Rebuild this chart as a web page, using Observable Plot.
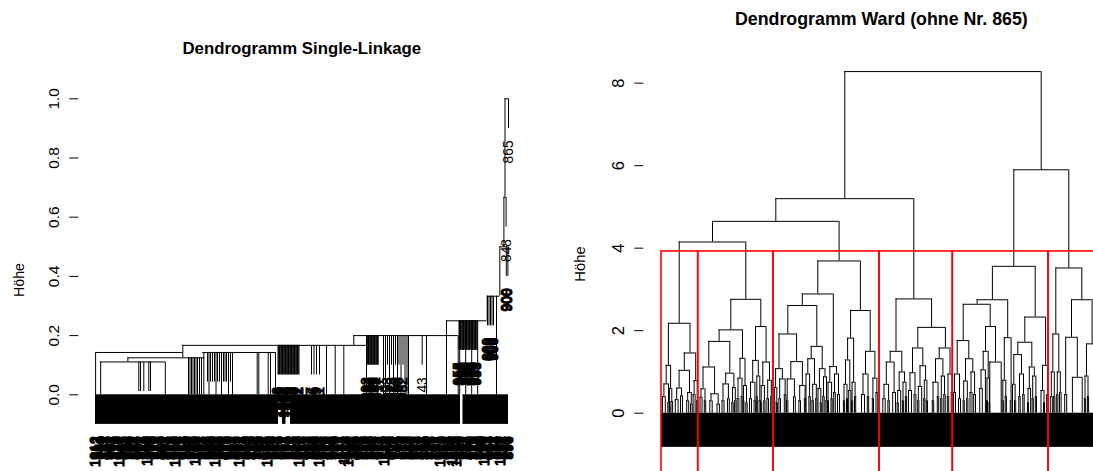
<!DOCTYPE html>
<html><head><meta charset="utf-8">
<script src="https://cdn.jsdelivr.net/npm/d3@7"></script>
<script src="https://cdn.jsdelivr.net/npm/@observablehq/plot@0.6"></script>
<style>
html,body{margin:0;padding:0;background:#fff;}
#wrap{position:relative;width:1093px;height:471px;overflow:hidden;background:#fff;font-family:"Liberation Sans",Arial,Helvetica,sans-serif;color:#000;}
.panel{position:absolute;top:0;}
.title{position:absolute;font-weight:bold;white-space:nowrap;transform:translateX(-50%);line-height:1;}
.ylab{position:absolute;white-space:nowrap;transform:translate(-50%,-50%) rotate(-90deg);line-height:1;}
</style></head><body><div id="wrap"></div>
<script>
// ---------- Single-Linkage dendrogram (leaf positions 0..413 in leaf order) ----------
const slTitle = "Dendrogramm Single-Linkage";
const slTicks = [0, 0.2, 0.4, 0.6, 0.8, 1.0];
// merge bars: [left child pos, right child pos, merge height]
const slMerges = [
  [0.1, 87.3, 0.143], [5.2, 69.8, 0.111], [32.4, 109.3, 0.125], [107.3, 180, 0.143],
  [87.3, 271, 0.167], [258.3, 362.7, 0.2], [351, 391.7, 0.25], [391.7, 404.3, 0.333],
  [404.3, 412.4, 0.5], [408.4, 410.6, 0.667], [409.5, 413, 1.0]
];
// cluster branches: [pos, from height, to height]
const slBranches = [
  [0.1, 0.143, 0], [87.3, 0.167, 0.125], [5.2, 0.111, 0], [69.8, 0.111, 0], [32.4, 0.125, 0.111],
  [108.3, 0.143, 0], [180, 0.143, 0], [161.7, 0.143, 0], [163.3, 0.143, 0], [172.7, 0.143, 0], [175, 0.143, 0],
  [93, 0.125, 0], [94.5, 0.125, 0], [96, 0.125, 0], [97.5, 0.125, 0], [99, 0.125, 0], [100.5, 0.125, 0],
  [102, 0.125, 0], [104, 0.125, 0], [106, 0.125, 0],
  [113.5, 0.143, 0], [120.5, 0.143, 0], [126, 0.143, 0], [133, 0.143, 0], [137, 0.143, 0],
  [258.3, 0.2, 0.167], [271, 0.2, 0], [231, 0.167, 0], [239.7, 0.167, 0], [248.3, 0.167, 0],
  [288, 0.2, 0], [290, 0.2, 0], [294, 0.2, 0], [298, 0.2, 0], [302, 0.2, 0], [305.5, 0.2, 0],
  [309.5, 0.2, 0], [311.5, 0.2, 0], [313, 0.2, 0], [331, 0.2, 0], [351, 0.25, 0], [362.7, 0.2, 0],
  [364.2, 0.25, 0], [370.2, 0.25, 0], [376.2, 0.25, 0], [382.2, 0.25, 0],
  [391.7, 0.333, 0.25], [401, 0.333, 0], [404.3, 0.5, 0.333], [408.4, 0.667, 0.5], [409.5, 1.0, 0.667]
];
// single observations joining above 0: height, positions, labels (null = label hidden in the leaf band)
const slLeafGroups = [
  {height: 0.111, x: [43.3, 45, 48.3, 53.3, 55], labels: null},
  {height: 0.143, x: [112, 115, 117, 119, 122, 124, 128, 129.5, 131, 135], labels: null},
  {height: 0.167, x: [182.5, 184, 185.5, 187, 188.5, 190, 191.5, 193, 194.5, 196, 197.5, 199, 200.5, 202, 203.5],
   labels: ["1053","870","1028","992","1064","874","989","1031","871","1059","993","1046","877","1002","1061"]},
  {height: 0.167, x: [183.2, 184.7, 186.2, 187.7, 189.2, 190.7, 192.2, 193.7, 195.2, 196.7, 198.2, 199.7, 201.2, 202.7], labels: null},
  {height: 0.167, x: [216, 218.5, 221, 224], labels: ["917","946","939","911"]},
  {height: 0.2, x: [271.5, 273, 274.5, 276, 277.5, 279, 280.5, 282], labels: ["1093","984","1057","903","961","1085","942","1017"]},
  {height: 0.2, x: [272.2, 273.7, 275.2, 276.7, 278.2, 279.7, 281.2, 282.7], labels: null},
  {height: 0.2, x: [292, 296, 300, 303.5, 307.5], labels: ["993","913","960","966","982"]},
  {height: 0.2, x: [326.7], labels: ["43"]},
  {height: 0.25, x: [363.5, 365, 366.5, 368, 369.5, 371, 372.5, 374, 375.5, 377, 378.5, 380, 381.5],
   labels: ["955","905","895","958","965","885","898","956","951","995","890","959","953"]},
  {height: 0.25, x: [364.2, 365.7, 367.2, 368.7, 370.2, 371.7, 373.2, 374.7, 376.2, 377.7, 379.2, 380.7], labels: null},
  {height: 0.333, x: [392, 393.5, 395, 396.5, 398], labels: ["909","600","908","990","906"]},
  {height: 0.5, x: [410.8, 412.4], labels: ["909","900"]},
  {height: 0.667, x: [410.6], labels: ["848"]},
  {height: 1.0, x: [413], labels: ["865"]}
];
// observations tied at height 0 (solid leaf band), leaf-position spans
const slZeroBand = [[0, 183], [187, 190.5], [195, 365], [367.5, 413]];
// leaf labels of the height-0 observations, in leaf order
const slBottomLabels = [
  "1012","713","884","290","231","458","547","831","602","176","318","624","1047","387","455","952","726","509","139","241",
  "683","676","902","813","274","365","1103","598","368","127","519","742","845","486","207","903","631","219","978","655",
  "1066","334","412","871","753","540","286","196","594","767","1120","403","337","928","861","281","149","615","705","752",
  "1009","143","563","589","428","476","916","842","252","327","687","699","1081","228","374","564","809","915","495","372",
  "166","805","738","451","621","686","1035","133","283","919","947","297","510","532","392","764","674","411","828","857",
  "215","188","1092","626","457","349","763","973","348","502","589","239","1058","781","936","416","271","659","645","895",
  "719","322","183","571","1114","138","1027","707","586","448","439","984","872","265","325","613","798","839","264","392",
  "617","522","953","176","1140","748","381","459","529","981","746","305","194","637","668","214","887","866","302","543",
  "574","377","421","702","835","160","657","823","249","491","781","931","1073","268","362","614","694","789","1156","345",
  "1018","556","533","902","817","233","406","679","926","428","258","815","609","150","1131","641","474","967","792","384",
  "357","518","1162","727","541","299","896"];

// ---------- Ward dendrogram (leaf positions from 0, plot cut at 433) ----------
const wardTitle = "Dendrogramm Ward (ohne Nr. 865)";
const wardTicks = [0, 2, 4, 6, 8];
// merge bars: [left child pos, right child pos, merge height]
const wardMerges = [
  [184.3, 380.7, 8.28], [115.3, 253.3, 5.20], [353.3, 408.3, 5.90], [52, 178.6, 4.65], [235.5, 271.1, 2.77],
  [331.9, 374.7, 3.56], [395.3, 421.3, 3.52], [18.7, 85.3, 4.15], [157.3, 199.9, 3.69], [7.9, 29.5, 2.18],
  [70.3, 100.3, 2.76], [141.8, 172.8, 2.89], [190.1, 209.7, 2.49], [229.7, 241.3, 1.50], [257.3, 284.9, 2.08],
  [316.6, 347.2, 2.75], [364.3, 385.1, 2.33], [392.3, 398.3, 1.92], [411, 431.6, 2.75],
  // cluster 1
  [5.7, 10.1, 1.16], [23.8, 35.2, 1.46], [3.4, 8.0, 0.71], [8.9, 11.3, 0.60], [18.6, 29, 1.04], [33.6, 36.8, 0.79],
  [2.0, 4.8, 0.40], [7.3, 8.7, 0.25], [10.5, 12.1, 0.28], [16.2, 21, 0.61], [27.2, 30.8, 0.50], [14.8, 17.6, 0.33],
  [20.0, 22.0, 0.42], [26.2, 28.2, 0.30], [30.0, 31.6, 0.22], [32.6, 34.6, 0.45], [36.2, 37.4, 0.30], [8.75, 9.5, 0.18],
  // cluster 2
  [58.6, 82, 2.02], [95, 105.6, 2.10], [48.3, 69.3, 1.74], [79.5, 84.5, 1.33], [42.5, 54.1, 1.12], [65.2, 73.4, 0.97],
  [77.5, 81.5, 0.85], [83, 86, 0.67], [92.2, 97.8, 1.28], [102.3, 109, 1.24], [40.5, 44.5, 0.59], [50.5, 57.7, 0.47],
  [62.5, 67.9, 0.71], [72, 74.8, 0.62], [76.6, 78.4, 0.35], [80.7, 82.3, 0.40], [90, 94.4, 0.75], [96.3, 99.3, 0.90],
  [100.7, 103.9, 0.67], [107.2, 110.8, 0.80], [39.5, 41.5, 0.39], [49.3, 51.7, 0.30], [56.5, 58.9, 0.22],
  [82.6, 83.4, 0.30], [85.3, 86.7, 0.25], [61.5, 63.5, 0.30], [67, 68.8, 0.35], [71.3, 72.7, 0.25], [74.1, 75.5, 0.30],
  [89, 91, 0.35], [93.6, 95.2, 0.30], [95.8, 96.8, 0.40], [98.6, 100, 0.30], [100.2, 101.2, 0.25], [103.3, 104.5, 0.30],
  [106.4, 108, 0.35], [110.2, 111.4, 0.40], [43.8, 45.2, 0.30],
  // cluster 3
  [127.3, 156.3, 2.61], [169.3, 176, 1.13], [118.5, 136.1, 1.92], [150.7, 161.7, 1.62], [115.1, 121.9, 1.08],
  [130.3, 141.9, 1.25], [147.3, 154, 1.32], [158.9, 164.5, 1.08], [167.5, 171.1, 0.75], [174, 178, 0.95],
  [113.9, 116.3, 0.62], [119.2, 124.6, 0.83], [126.7, 133.9, 0.83], [139.2, 144.6, 0.67], [145.5, 149.1, 0.95],
  [152.2, 155.8, 0.70], [157.5, 160.3, 0.60], [163, 166, 0.88], [177, 179, 0.45],
  [187.1, 193.1, 1.82], [205, 214.4, 1.50], [185, 189.3, 1.29], [191.6, 194.6, 0.75], [183.5, 186.5, 0.70],
  [188.2, 190.4, 0.55], [202.5, 207.5, 0.95], [212.4, 216.4, 0.85], [201, 204, 0.45], [215.5, 217.3, 0.50],
  [113.4, 114.4, 0.30], [115.9, 116.9, 0.25], [118.4, 120, 0.35], [123.8, 125.4, 0.45], [126, 127.4, 0.30],
  [133, 134.8, 0.40], [138.4, 140, 0.30], [143.9, 145.2, 0.35], [148.4, 149.8, 0.40], [151.5, 152.9, 0.30],
  [155.2, 156.4, 0.35], [159.8, 160.8, 0.25], [162.3, 163.7, 0.40], [165.4, 166.6, 0.30], [167, 168, 0.30],
  [170.5, 171.7, 0.35], [173.2, 174.8, 0.50], [182.9, 184.1, 0.30], [186, 187, 0.35], [191, 192.2, 0.30],
  [194, 195.2, 0.40], [206.8, 208.2, 0.40], [211.8, 213, 0.35],
  // cluster 4
  [225.8, 233.6, 1.24], [238.7, 244, 1.00], [223.5, 228.1, 0.70], [232.2, 235, 0.50], [237.2, 240.2, 0.55],
  [242.5, 245.5, 0.75], [222.3, 224.7, 0.35],
  [252, 262.3, 1.58], [278.7, 289.5, 1.58], [249.5, 254.5, 0.98], [259.5, 265.1, 1.15], [275, 282.4, 1.32],
  [287.5, 291.5, 0.95], [248, 251, 0.55], [257.8, 261.2, 0.65], [263.8, 266.4, 0.80], [272.5, 277.5, 0.75],
  [280.8, 284, 0.90], [290.7, 292.3, 0.50],
  [227.4, 228.8, 0.30], [236.6, 237.8, 0.25], [241.9, 243.1, 0.30], [244.9, 246.1, 0.40], [253.6, 255.4, 0.45],
  [257.2, 258.4, 0.30], [263.2, 264.4, 0.35], [265.8, 267, 0.30], [271.8, 273.2, 0.30], [276.8, 278.2, 0.40],
  [280.2, 281.4, 0.35], [283.3, 284.7, 0.45], [286.8, 288.2, 0.40],
  // cluster 5
  [302.7, 329.7, 2.64], [343.8, 350.6, 1.83], [296.7, 308.3, 1.76], [325, 335, 2.10], [294, 299, 0.95],
  [305, 312.3, 1.32], [322.7, 327.7, 1.50], [329.3, 340.7, 1.24], [342.3, 345.3, 0.80], [349.8, 351.4, 0.30],
  [293, 295, 0.50], [298, 300, 0.35], [303.2, 306.8, 0.78], [310.5, 314.1, 1.00], [320.5, 324.9, 1.05],
  [326.5, 328.9, 0.85], [309.5, 311.5, 0.50], [313.2, 315, 0.45], [319.2, 321.8, 0.60],
  [357.3, 371.3, 1.72], [382, 387, 1.16], [353.3, 361, 1.42], [368.8, 373.8, 1.12], [352, 354.6, 0.70],
  [359, 363, 0.95], [367.5, 370.1, 0.60], [372.2, 375.4, 0.90], [380.5, 383.5, 0.55], [386.2, 387.8, 0.45],
  [302.6, 303.8, 0.30], [306.2, 307.4, 0.35], [326, 327, 0.30], [328.5, 329.2, 0.25], [341.7, 342.9, 0.30],
  [344.7, 345.9, 0.40], [354, 355.2, 0.30], [358.3, 359.7, 0.40], [362.3, 363.7, 0.45], [367, 368, 0.25],
  [371.6, 372.8, 0.35], [374.8, 376, 0.40], [383, 384, 0.25],
  // cluster 6
  [390.8, 393.8, 1.00], [396.8, 399.8, 1.00], [389.8, 391.8, 0.40], [399, 400.6, 0.50], [405.2, 416.8, 1.84],
  [426, 437, 1.68], [404.2, 406.2, 0.45], [411.9, 421.7, 0.87], [424.5, 427.5, 0.90],
  [393.2, 394.4, 0.40], [396.2, 397.4, 0.45], [423.9, 425.1, 0.35], [426.9, 428.1, 0.40]
];
const wardLeafSpan = [1, 440];
const wardCutHeight = 3.92;             // rect.hclust(k = 6)
const wardClusterEdges = [1, 37.7, 113, 219, 292.3, 388, 445];

// ---------- helpers ----------
const FONT = '"Liberation Sans", Arial, Helvetica, sans-serif';
function barRows(merges) { return merges.map(([x1, x2, h]) => ({x1, x2, h})); }
function wardLegs(bars) {
  const legs = [];
  for (const b of bars) for (const x of [b.x1, b.x2]) {
    let bottom = 0;
    for (const c of bars) if (c.h < b.h && c.x1 - 1e-6 <= x && x <= c.x2 + 1e-6 && c.h > bottom) bottom = c.h;
    legs.push({x, top: b.h, bottom});
  }
  return legs;
}
const wrap = document.getElementById("wrap");
function addDiv(cls, text, css) {
  const d = document.createElement("div");
  d.className = cls; d.textContent = text; Object.assign(d.style, css); wrap.appendChild(d);
}

// ---------- left panel ----------
{
  const bars = barRows(slMerges);
  const hang = 0.1 * d3.max(bars, d => d.h);
  const branches = slBranches.map(([x, top, bottom]) => ({x, top, bottom}));
  const leafLines = [], denseLabels = [], singleLabels = [];
  for (const g of slLeafGroups) g.x.forEach((x, i) => {
    leafLines.push({x, top: g.height, bottom: g.height - hang});
    if (g.labels) (g.x.length > 1 ? denseLabels : singleLabels).push({x, y: g.height - hang, label: g.labels[i]});
  });
  const n = slBottomLabels.length;
  const bottomLabels = slBottomLabels.map((label, i) => ({x: i * 413 / (n - 1), y: -hang, label}));
  const band = slZeroBand.map(([x1, x2]) => ({x1, x2}));
  const labelOpts = {x: "x", y: "y", text: "label", rotate: -90, textAnchor: "end", lineAnchor: "middle", dy: 12, fontSize: 13.8, fill: "black"};

  const p = Plot.plot({
    width: 546, height: 471,
    marginLeft: 78.3, marginRight: 0, marginTop: 98.3, marginBottom: 76.7,
    x: {domain: [0, 413], range: [95, 508], axis: null},
    y: {domain: [0, 1], axis: null},
    style: {fontFamily: FONT, fontSize: "15.5px", background: "white", overflow: "visible"},
    marks: [
      Plot.axisY({ticks: slTicks, tickSize: 9, tickPadding: 11, tickRotate: -90, tickFormat: d3.format(".1f"),
                  label: null, line: true, fontSize: 15.5}),
      Plot.ruleX(branches, {x: "x", y1: "top", y2: "bottom", stroke: "black", strokeWidth: 1}),
      Plot.ruleX(leafLines, {x: "x", y1: "top", y2: "bottom", stroke: "black", strokeWidth: 1}),
      Plot.ruleY(bars, {y: "h", x1: "x1", x2: "x2", stroke: "black", strokeWidth: 1}),
      Plot.text(denseLabels, {...labelOpts, stroke: "black", strokeWidth: 0.9}),
      Plot.text(singleLabels, labelOpts),
      Plot.rect(band, {x1: "x1", x2: "x2", y1: () => 0, y2: () => -hang, fill: "black"}),
      Plot.text(bottomLabels, {...labelOpts, stroke: "black", strokeWidth: 1.1})
    ]
  });
  p.classList.add("panel"); p.style.left = "0px";
  wrap.appendChild(p);
  addDiv("title", slTitle, {left: "301.8px", top: "40.8px", fontSize: "16.8px"});
  addDiv("ylab", "Höhe", {left: "18.9px", top: "280px", fontSize: "14.2px"});
}

// ---------- right panel ----------
{
  const bars = barRows(wardMerges);
  const legs = wardLegs(bars);
  const hang = 0.1 * d3.max(bars, d => d.h);
  const rects = d3.pairs(wardClusterEdges).map(([x1, x2]) => ({x1, x2}));
  const p = Plot.plot({
    width: 547, height: 471,
    marginLeft: 97.3, marginRight: 0, marginTop: 55, marginBottom: 58.3,
    x: {domain: [0, 433], range: [114, 547], axis: null},
    y: {domain: [0, 8.67], axis: null},
    style: {fontFamily: FONT, fontSize: "16.5px", background: "white", overflow: "visible"},
    marks: [
      Plot.axisY({ticks: wardTicks, tickSize: 9, tickPadding: 11, tickRotate: -90, tickFormat: d => String(d),
                  label: null, line: true, fontSize: 16.5}),
      Plot.ruleX(legs, {x: "x", y1: "top", y2: "bottom", stroke: "black", strokeWidth: 1}),
      Plot.ruleY(bars, {y: "h", x1: "x1", x2: "x2", stroke: "black", strokeWidth: 1}),
      Plot.rect([{x1: wardLeafSpan[0], x2: wardLeafSpan[1]}], {x1: "x1", x2: "x2", y1: () => 0, y2: () => -hang, fill: "black"}),
      Plot.rect(rects, {x1: "x1", x2: "x2", y1: () => -1.7, y2: () => wardCutHeight, fill: "none", stroke: "#ff0000", strokeWidth: 1.6})
    ]
  });
  p.classList.add("panel"); p.style.left = "546px";
  wrap.appendChild(p);
  addDiv("title", wardTitle, {left: "881.4px", top: "10.6px", fontSize: "17.8px"});
  addDiv("ylab", "Höhe", {left: "579.5px", top: "264px", fontSize: "14.8px"});
}
</script></body></html>
